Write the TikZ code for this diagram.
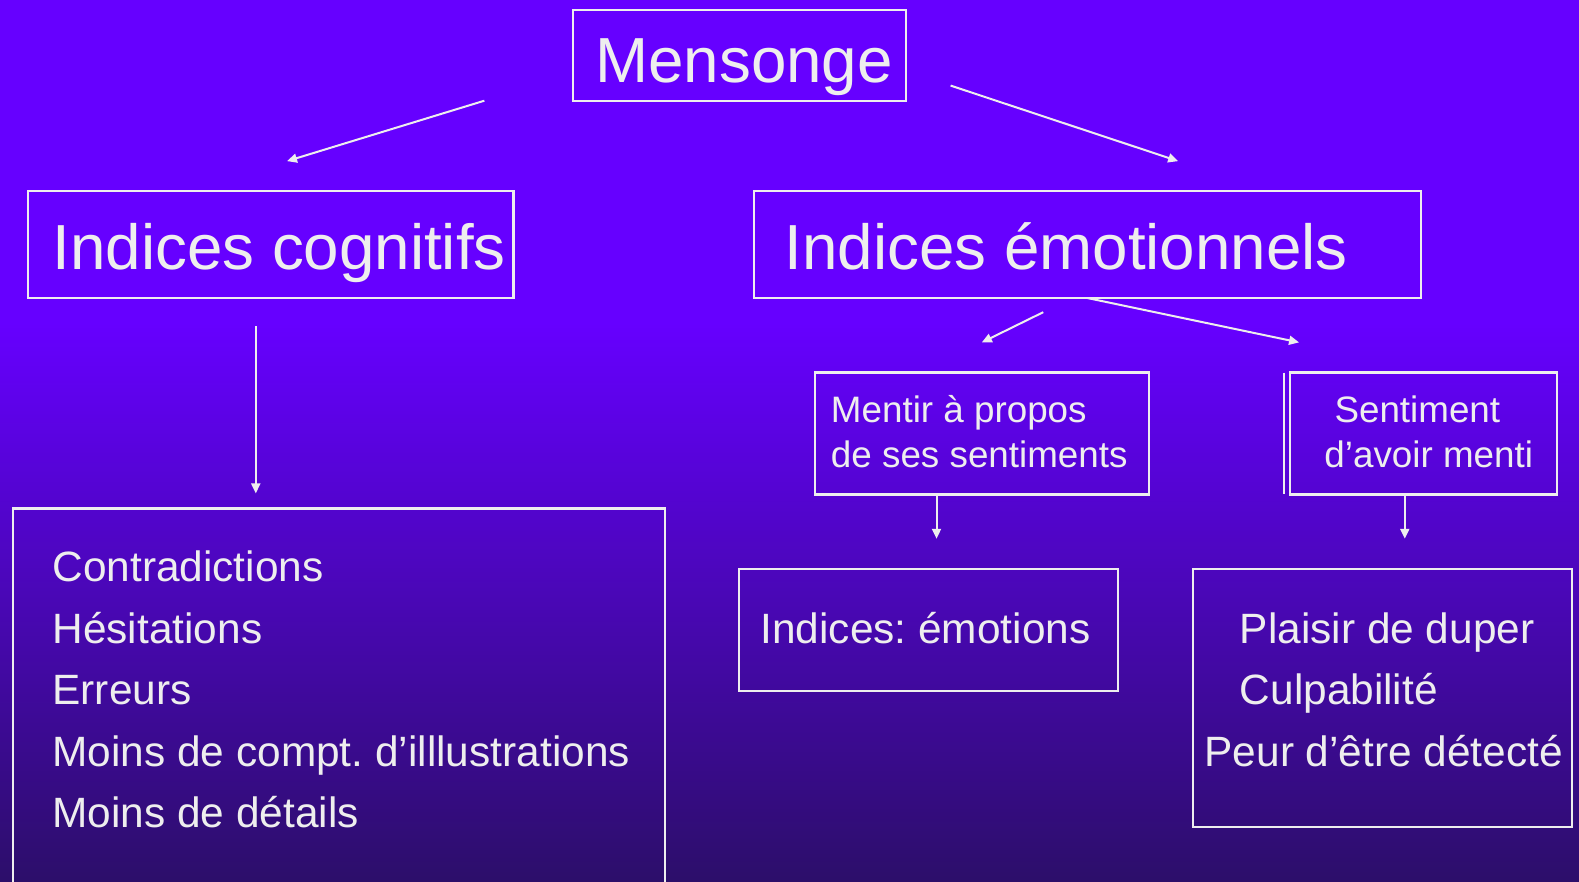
\documentclass[tikz,border=0pt]{standalone}
\usepackage{fontspec}
\setmainfont{Liberation Sans}
\frenchspacing
\usetikzlibrary{arrows.meta,fit}
\definecolor{bgtop}{HTML}{6600FF}
\definecolor{bgmid}{HTML}{5004C8}
\definecolor{bgbot}{HTML}{2C0E6A}
\definecolor{ink}{HTML}{EEEEEE}
\tikzset{
  boxst/.style={draw=ink, line width=2.2pt, inner sep=0pt, fill=none},
  big/.style={text=ink, inner sep=0pt, font=\fontsize{63.7}{70}\selectfont},
  mid/.style={text=ink, inner sep=0pt, font=\fontsize{42.4}{50}\selectfont},
  small/.style={text=ink, inner sep=0pt, font=\fontsize{36.8}{44}\selectfont},
  conn/.style={draw=ink, line width=2pt, -{Triangle[length=10pt,width=9pt]}},
}
\begin{document}
\begin{tikzpicture}[x=1.00702pt,y=-1.00702pt]
\useasboundingbox (0,0) rectangle (1568,875);
\fill[bgtop] (0,0) rectangle (1568,321);
\shade[top color=bgtop, middle color=bgmid, bottom color=bgbot, draw=none] (0,320) rectangle (1568,875);

% boxes
\node[boxst, fit={(569,10) (900,100)}] (mens) {};
\node[boxst, fit={(28,190) (510,296)}] (cog) {};
\node[boxst, fit={(749,190) (1411,296)}] (emo) {};
\node[boxst, fit={(809,370) (1141,491)}] (ment) {};
\node[boxst, fit={(1281,370) (1546,491)}] (sent) {};
\draw[draw=ink, line width=2.2pt] (1275,370) coordinate (sl1) -- (1275,491) coordinate (sl2);
\node[boxst, fit={(13,505) (660,890)}] (list) {};
\node[boxst, fit={(734,565) (1110,686)}] (iemo) {};
\node[boxst, fit={(1185,565) (1561,821)}] (plai) {};

% texts
\node[big, anchor=base west] (tmens) at (591,82) {Mensonge};
\node[big, anchor=base west] (tcog) at (52,268) {Indices cognitifs};
\node[big, anchor=base west] (temo) at (779,268) {Indices émotionnels};
\node[small, anchor=base west] (tm1) at (825,420) {Mentir à propos};
\node[small, anchor=base west] (tm2) at (825,464) {de ses sentiments};
\node[small, anchor=base west] (ts1) at (1325,420) {Sentiment};
\node[small, anchor=base west] (ts2) at (1315,464) {d’avoir menti};
\node[mid, anchor=base west] (l1) at (52,577) {Contradictions};
\node[mid, anchor=base west] (l2) at (52,639) {Hésitations};
\node[mid, anchor=base west] (l3) at (52,700) {Erreurs};
\node[mid, anchor=base west] (l4) at (52,761) {Moins de compt. d’illlustrations};
\node[mid, anchor=base west] (l5) at (52,822) {Moins de détails};
\node[mid, anchor=base west] (tie) at (755,639) {Indices: émotions};
\node[mid, anchor=base west] (p1) at (1231,639) {Plaisir de duper};
\node[mid, anchor=base west] (p2) at (1231,700) {Culpabilité};
\node[mid, anchor=base west] (p3) at (1196,761) {Peur d’être détecté};

% connector ends
\coordinate (a1s) at (481,100); \coordinate (a1e) at (285,160);
\coordinate (a2s) at (944,85);  \coordinate (a2e) at (1170,160);
\coordinate (a3s) at (254,324); \coordinate (a3e) at (254,490);
\coordinate (a4s) at (1036,310); \coordinate (a4e) at (975,340);
\coordinate (a5s) at (1080,296); \coordinate (a5e) at (1290,340);
\coordinate (a6s) at (930,491); \coordinate (a6e) at (930,535);
\coordinate (a7s) at (1395,491); \coordinate (a7e) at (1395,535);

\draw[conn] (a1s) -- (a1e);
\draw[conn] (a2s) -- (a2e);
\draw[conn] (a3s) -- (a3e);
\draw[conn] (a4s) -- (a4e);
\draw[conn] (a5s) -- (a5e);
\draw[conn] (a6s) -- (a6e);
\draw[conn] (a7s) -- (a7e);
\end{tikzpicture}
\end{document}
